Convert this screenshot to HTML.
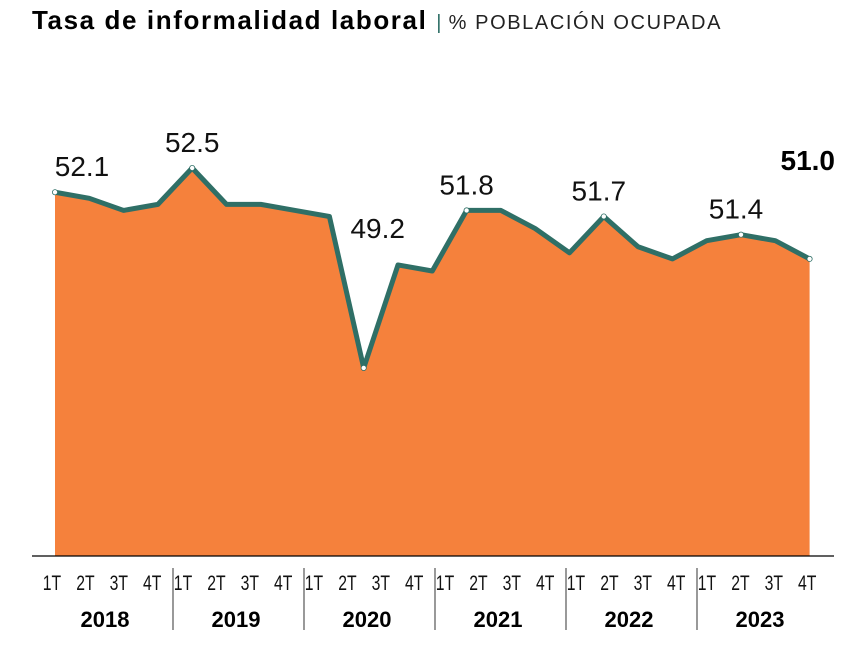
<!DOCTYPE html>
<html><head><meta charset="utf-8">
<style>
body{margin:0;background:#fff;width:864px;height:656px;overflow:hidden;font-family:"Liberation Sans",sans-serif}
svg{display:block}
</style></head>
<body>
<svg id="chart" width="864" height="656" viewBox="0 0 864 656" xmlns="http://www.w3.org/2000/svg">
<text x="32" y="29" font-family="Liberation Sans, sans-serif" font-size="26" font-weight="bold" letter-spacing="1.6" fill="#000">Tasa de informalidad laboral <tspan font-weight="normal" fill="#2f6f66" font-size="20" letter-spacing="0">|</tspan><tspan font-weight="normal" font-size="20" fill="#222" letter-spacing="1.6"> % POBLACIÓN OCUPADA</tspan></text>
<g id="marks"></g>
<g id="axis"></g>
</svg>
<script>
const quarters = ["1T","2T","3T","4T"];
const years = ["2018","2019","2020","2021","2022","2023"];
const values = [52.1,52.0,51.8,51.9, 52.5,51.9,51.9,51.8, 51.7,49.2,50.9,50.8, 51.8,51.8,51.5,51.1, 51.7,51.2,51.0,51.3, 51.4,51.3,51.0];
const labeledIdx = [0,4,9,12,16,20];
const NS="http://www.w3.org/2000/svg";
function mk(t,a,p){const e=document.createElementNS(NS,t);for(const k in a)e.setAttribute(k,a[k]);p.appendChild(e);return e;}
const xS=i=>55+i*34.3;
const yS=v=>168+(52.5-v)*60.6;
const base=556;
const marks=document.getElementById('marks');
let d=`M${xS(0)},${base}`;
values.forEach((v,i)=>{d+=` L${xS(i)},${yS(v)}`;});
d+=` L${xS(values.length-1)},${base} Z`;
const area=mk('path',{d:d,fill:'#f5813c'},marks);


const line=mk('polyline',{points:values.map((v,i)=>xS(i)+','+yS(v)).join(' '),fill:'none',stroke:'#2f6f66','stroke-width':5,'stroke-linejoin':'round'},marks);


labeledIdx.concat([values.length-1]).forEach(i=>{
  const c=mk('circle',{cx:xS(i),cy:yS(values[i]),r:2.6,fill:'#fff',stroke:'#2f6f66','stroke-width':0.8},marks);
  
  
});
labeledIdx.forEach(i=>{
  let dx=0, ly=yS(values[i])-16;
  if(i===0) dx=27;
  if(i===16||i===20) dx=-5;
  if(i===9){dx=14; ly=yS(values[i])-130;}
  const t=mk('text',{x:xS(i)+dx,y:ly,'text-anchor':'middle','font-size':28,fill:'#111'},marks);
  t.textContent=values[i].toFixed(1);
  
  
});
const last=values.length-1;
const lt=mk('text',{x:835,y:170,'text-anchor':'end','font-size':28,'font-weight':'bold',fill:'#000'},marks);
lt.textContent=values[last].toFixed(1);


const axis=document.getElementById('axis');
const al=mk('line',{x1:32,x2:834,y1:base,y2:base,stroke:'#000','stroke-width':1.2},axis);


years.forEach((y,k)=>{
  const g0=40+131*k;
  quarters.forEach((q,j)=>{
    const x=g0+12+j*33.4;
    const t=mk('text',{x:x,y:590,'text-anchor':'middle','font-size':21,fill:'#111',transform:`translate(${x*0.25},0) scale(0.75,1)`},axis);
    t.textContent=q;
    
    
  });
  const yt=mk('text',{x:g0+65,y:627,'text-anchor':'middle','font-size':22,'font-weight':'bold',fill:'#000'},axis);
  yt.textContent=y;
  
  
  if(k>0){
    const s=mk('line',{x1:g0+2,x2:g0+2,y1:568,y2:630,stroke:'#000','stroke-width':0.8},axis);
    
    
  }
});
</script>
</body></html>
